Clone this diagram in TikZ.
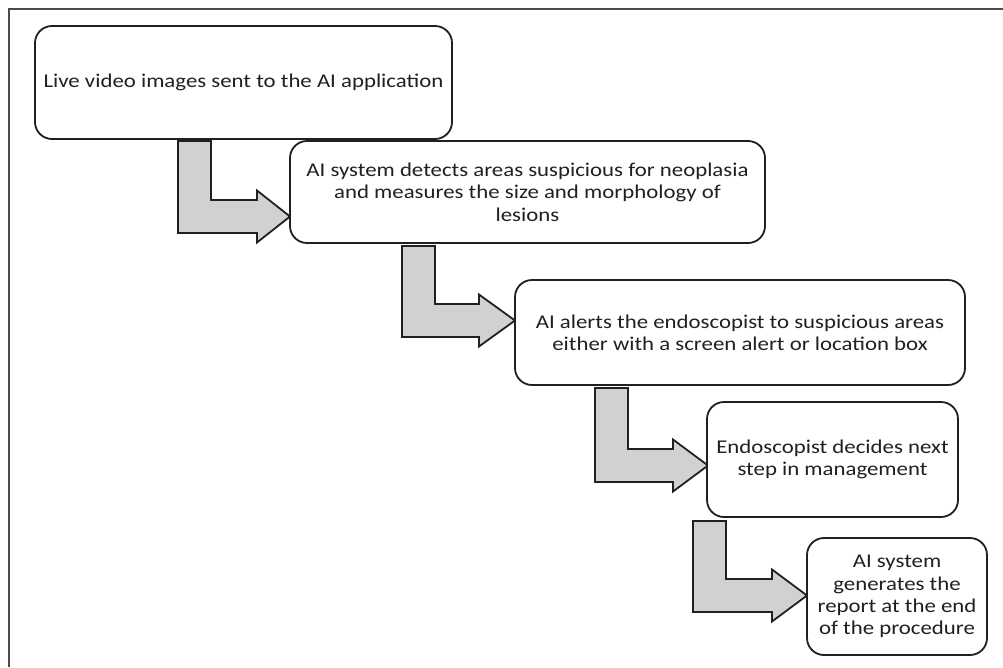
\documentclass[tikz,border=0pt]{standalone}
\usepackage{fontspec}
\setmainfont{Carlito}[FakeStretch=1.17]
\definecolor{arrowfill}{RGB}{208,209,211}
\definecolor{ink}{RGB}{35,31,32}
\newcommand{\blockarrow}[5]{%
  % #1 stem left x, #2 stem top y, #3 bar top y, #4 head back x, #5 tip x
  \draw[barrow] (#1,#2) -- ({#1+33},#2) -- ({#1+33},#3) -- (#4,#3) -- (#4,{#3+16.5-26})
    -- (#5,{#3+16.5}) -- (#4,{#3+16.5+26}) -- (#4,{#3+33}) -- (#1,{#3+33}) -- cycle;}
\begin{document}
\begin{tikzpicture}[x=1pt,y=-1pt,
  stepbox/.style={draw=ink, line width=1.8pt, rounded corners=17pt, fill=white,
    inner sep=0pt, align=center, text=ink,
    font=\fontsize{19.5}{22.3}\selectfont},
  barrow/.style={draw=ink, line width=1.8pt, fill=arrowfill, line join=miter},
  frame/.style={draw=black!70, line width=2pt}]
\useasboundingbox (0,0) rectangle (1003,667);
\draw[frame] (8.5,667) -- (8.5,8.5) -- (1003,8.5);
% arrows
\blockarrow{178}{141}{200}{257}{290}
\blockarrow{402}{246}{304}{479}{515}
\blockarrow{595}{388}{449}{673}{708}
\blockarrow{693}{521}{579}{772}{807}
% boxes
\node[stepbox, minimum width=417pt, minimum height=113pt] (b1) at (243.5,82.5)
  {Live video images sent to the AI application};
\node[stepbox, minimum width=475pt, minimum height=102pt] (b2) at (527.5,192)
  {AI system detects areas suspicious for neoplasia\\and measures the size and morphology of\\lesions};
\node[stepbox, minimum width=450pt, minimum height=105pt] (b3) at (740,332.5)
  {AI alerts the endoscopist to suspicious areas\\either with a screen alert or location box};
\node[stepbox, minimum width=251pt, minimum height=115pt] (b4) at (832.5,459.5)
  {Endoscopist decides next\\step in management};
\node[stepbox, minimum width=180pt, minimum height=117pt] (b5) at (897,596.5)
  {AI system\\generates the\\report at the end\\of the procedure};
\end{tikzpicture}
\end{document}
